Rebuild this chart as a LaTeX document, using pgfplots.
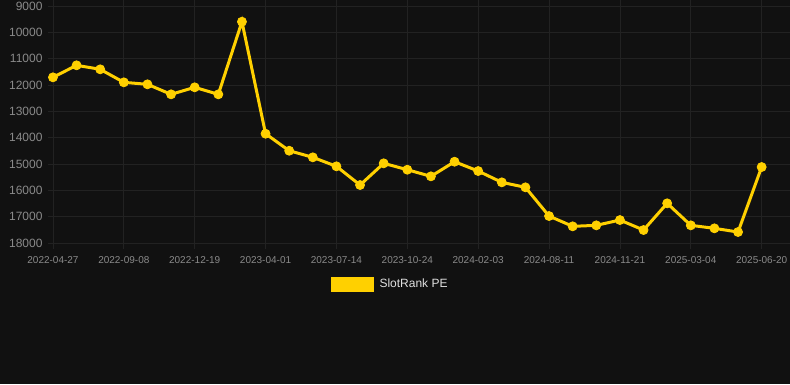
\documentclass[border=0pt]{standalone}
\usepackage{pgfplots}
\pgfplotsset{compat=1.18}
\usepackage{fontspec}
\setmainfont{Liberation Sans}
\definecolor{bg}{HTML}{111111}
\definecolor{gridc}{HTML}{222222}
\definecolor{gold}{HTML}{FFD000}
\definecolor{tickc}{HTML}{8A8A8A}
\definecolor{legc}{HTML}{E0E0E0}
\begin{document}
\begin{tikzpicture}
\useasboundingbox (0pt,0pt) rectangle (790pt,384pt);
\fill[bg] (0pt,0pt) rectangle (790pt,384pt);
\begin{axis}[
  at={(48pt,141pt)}, anchor=south west, scale only axis,
  width=742pt, height=237pt,
  xmin=-0.21, xmax=31.2, ymin=9000, ymax=18000, y dir=reverse,
  axis line style={draw=none},
  grid=major, grid style={gridc, line width=0.8pt},
  xtick={0,3,...,30},
  xticklabels={2022-04-27,2022-09-08,2022-12-19,2023-04-01,2023-07-14,2023-10-24,2024-02-03,2024-08-11,2024-11-21,2025-03-04,2025-06-20},
  ytick={9000,10000,...,18000},
  scaled y ticks=false,
  tick label style={text=tickc},
  yticklabel style={font=\fontsize{12}{12}\selectfont, xshift=4pt},
  xticklabel style={font=\fontsize{10}{10}\selectfont, yshift=-3.5pt},
  /pgf/number format/assume math mode=true,
  /pgf/number format/1000 sep={},
  tick align=outside, major tick length=6pt,
  xtick style={gridc, line width=0.8pt},
  ytick style={draw=none},
  legend style={at={(0.461,-0.173)}, anchor=center, draw=none, fill=none,
    text=legc, font=\fontsize{12}{14}\selectfont},
]
\addplot[gold, line width=3pt, mark=*, mark size=4.5pt,
  mark options={solid, fill=gold, draw=gold, line width=0.8pt},
  legend image code/.code={\fill[gold] (0pt,-6pt) rectangle (40pt,6pt); \path (44pt,0pt);}]
coordinates {
(0,11708) (1,11252) (2,11404) (3,11898) (4,11974) (5,12354) (6,12088) (7,12354)
(8,9596) (9,13850) (10,14496) (11,14746) (12,15088) (13,15798) (14,14974)
(15,15217) (16,15468) (17,14913) (18,15267) (19,15696) (20,15886) (21,16976)
(22,17367) (23,17329) (24,17128) (25,17507) (26,16493) (27,17329) (28,17443)
(29,17583) (30,15115)
};
\addlegendentry{SlotRank PE}
\end{axis}
\end{tikzpicture}
\end{document}
